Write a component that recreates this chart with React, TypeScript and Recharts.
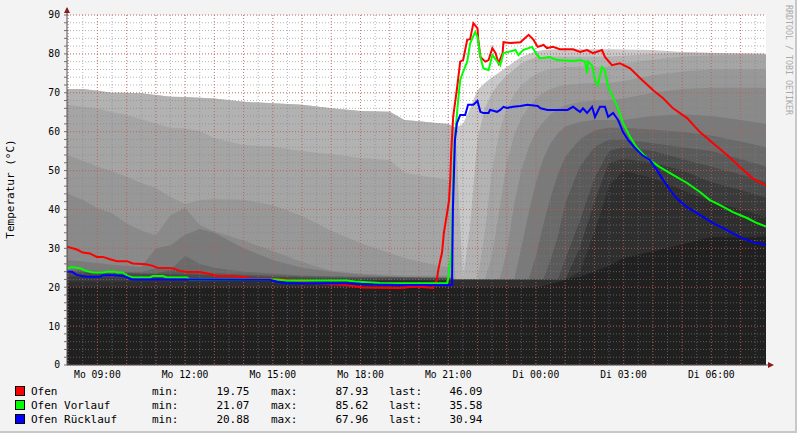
import { ComposedChart, Area, Line, XAxis, YAxis, CartesianGrid } from 'recharts';

// time axis in hours counted from Mo 00:00
const X_START = 7.96;
const X_END = 31.87;

// grey history bands (one curve per past heating cycle)
const LAYER_T = [7.96, 8.5, 9, 9.5, 10, 10.5, 11, 11.5, 12, 12.5, 13, 14, 15, 16, 17, 18, 19, 19.5, 20, 20.5, 21, 21.25, 21.5, 21.75, 22, 22.25, 22.5, 22.75, 23, 23.25, 23.5, 23.75, 24, 24.25, 24.5, 24.75, 25, 25.5, 26, 26.5, 27, 28, 29, 30, 31, 31.87];
const LAYER_1 = [71, 71, 70.5, 70, 70, 69.9, 69.4, 69, 68.9, 68.7, 68.5, 67.7, 67.3, 66.9, 66, 65.3, 65.1, 63, 62.7, 62.3, 62, 61, 62, 66, 70.7, 72.5, 74, 75.3, 76.6, 78, 79.2, 80, 80.7, 81, 81.1, 81.2, 81.2, 81.2, 81.2, 81.2, 81.1, 81, 80.5, 80.3, 80.1, 80];
const LAYER_2 = [71, 71, 70.5, 70, 70, 69.9, 69.4, 69, 68.9, 68.7, 68.5, 67.7, 67.3, 66.9, 66, 65.3, 65.1, 63, 62.7, 62.3, 62, 61, 21.9, 36, 58, 66, 70, 72.5, 74.5, 76, 77.5, 78.5, 79, 79.2, 79.3, 79.3, 79.3, 79.3, 79.3, 79.3, 79.5, 80, 80.3, 80.2, 80.1, 80];
const LAYER_3 = [66.9, 66.4, 66, 65, 64.3, 63.2, 62.1, 61, 60.8, 60.2, 58.3, 56.6, 56.1, 55, 54.2, 53.2, 52.7, 49.5, 48.7, 48.2, 47.6, 21.9, 21.9, 21.9, 21.9, 34, 50, 60, 66, 69.5, 72, 73.5, 74.8, 75.6, 76.1, 76.4, 76.6, 76.7, 76.7, 76.7, 77.5, 78.5, 79.3, 79.6, 79.8, 79.8];
const LAYER_4 = [54, 52.5, 51, 49.8, 48.4, 46.8, 45.5, 43.2, 40.4, 36, 34, 30, 27, 25, 24, 23.5, 23.2, 23, 23, 23, 23, 21.9, 21.9, 21.9, 21.9, 21.9, 28, 40, 52, 59, 63.5, 66.5, 68.5, 70, 71, 71.6, 72, 72.4, 72.5, 72.5, 73, 74.5, 75.5, 76, 76, 76];
const LAYER_5 = [44.1, 42.5, 40.3, 39, 36.4, 34.6, 33.3, 30.8, 28, 26, 25, 24, 23.5, 23, 22.8, 22.7, 22.6, 22.5, 22.5, 22.5, 22.5, 21.9, 21.9, 21.9, 21.9, 21.9, 21.9, 21.9, 29, 41, 50, 56, 60, 62.5, 64.5, 65.8, 66.8, 67.6, 68, 68.1, 68.5, 70, 71, 71.3, 71.3, 71.3];
const LAYER_6 = [24.2, 24.1, 24, 24, 24, 24, 30, 38.5, 41.4, 42.4, 42.6, 42.5, 41.1, 38.3, 34.5, 31.3, 28.8, 27.5, 26.6, 25.8, 25.2, 21.9, 21.9, 21.9, 21.9, 21.9, 21.9, 21.9, 21.9, 21.9, 30, 39, 47, 53, 57, 59.5, 61.3, 62.5, 63, 63, 63, 64, 64.5, 64, 63, 62];
const LAYER_7 = [23.8, 23.7, 23.6, 23.5, 23.5, 23.4, 23.4, 24.5, 33.5, 35, 34.3, 32, 29.3, 26.5, 24.2, 23.3, 22.8, 22.6, 22.5, 22.4, 22.3, 21.9, 21.9, 21.9, 21.9, 21.9, 21.9, 21.9, 21.9, 21.9, 21.9, 21.9, 28, 36, 43, 49, 53.5, 58, 60.3, 61, 61, 60.5, 60, 59, 57.5, 56];
const LAYER_8 = [27, 26.6, 26.2, 25.8, 25.5, 25.2, 24.8, 24.4, 24, 23.8, 23.6, 23.3, 23, 22.8, 22.7, 22.6, 22.6, 22.6, 22.6, 22.6, 22.6, 21.9, 21.9, 21.9, 21.9, 21.9, 21.9, 21.9, 21.9, 21.9, 21.9, 21.9, 21.9, 21.9, 27, 33, 41.5, 51, 56, 58, 58, 57, 56, 55, 53, 51];
const LAYER_9 = [24.5, 24.4, 24.2, 24, 23.8, 23.6, 23.5, 23.4, 23.3, 23.2, 23.1, 22.9, 22.7, 22.5, 22.4, 22.3, 22.3, 22.3, 22.3, 22.3, 22.3, 21.9, 21.9, 21.9, 21.9, 21.9, 21.9, 21.9, 21.9, 21.9, 21.9, 21.9, 21.9, 21.9, 21.9, 21.9, 27, 37, 48, 55, 56, 55, 53, 51, 49, 47];
const LAYER_10 = [22.8, 22.7, 22.6, 22.5, 22.4, 22.3, 22.3, 22.2, 22.2, 22.1, 22.1, 22.1, 22.1, 22.1, 22, 22, 22, 22, 22, 22, 22, 21.9, 21.9, 21.9, 21.9, 21.9, 21.9, 21.9, 21.9, 21.9, 21.9, 21.9, 21.9, 21.9, 21.9, 21.9, 21.9, 30, 42, 52, 53, 52, 50, 47, 45, 43];
const LAYER_11 = [21.5, 21.5, 21.5, 21.5, 21.5, 21.5, 21.5, 21.5, 21.5, 21.5, 21.5, 21.6, 21.6, 21.6, 21.6, 21.6, 21.8, 21.8, 21.8, 21.8, 21.8, 21.9, 21.9, 21.9, 21.9, 21.9, 21.9, 21.9, 21.9, 21.9, 21.9, 21.9, 21.9, 21.9, 21.9, 21.9, 21.9, 24, 34, 46, 50, 48, 45, 42, 40, 38];
const LAYER_12 = [20, 20, 20, 20, 20, 20, 20, 20, 20, 20, 20, 20, 20, 20, 20, 20, 20, 20, 20, 20, 20, 20, 20, 20, 20, 20, 20, 20, 20, 20, 20, 20, 20, 20.3, 20.8, 21.3, 21.9, 22.7, 24, 25.5, 27.5, 29.2, 31, 32.9, 32.8, 33];

// Ofen
const OFEN_T = [7.96, 8.3, 8.5, 8.74, 8.98, 9.19, 9.43, 9.67, 10.01, 10.21, 10.66, 10.9, 11.04, 11.58, 11.82, 12.06, 12.51, 12.85, 13.09, 13.64, 14.11, 14.22, 15.24, 16.27, 17.47, 18.08, 19.35, 19.86, 20.2, 20.48, 20.55, 20.61, 20.65, 20.72, 20.79, 20.85, 20.96, 21.03, 21.07, 21.1, 21.17, 21.3, 21.41, 21.51, 21.65, 21.75, 21.86, 22.0, 22.03, 22.1, 22.27, 22.38, 22.51, 22.62, 22.72, 22.86, 22.89, 23.13, 23.47, 23.75, 23.92, 24.06, 24.26, 24.38, 24.58, 24.82, 25.27, 25.51, 25.75, 25.95, 26.26, 26.36, 26.6, 26.87, 27.22, 27.56, 28.0, 28.35, 28.69, 29.17, 29.61, 30.06, 30.54, 30.98, 31.42, 31.87];
const OFEN_V = [30.4, 29.7, 28.9, 28.7, 27.8, 27.8, 27.2, 26.7, 26.7, 26.1, 25.9, 25.5, 25.0, 24.9, 24.2, 23.9, 23.9, 23.4, 22.9, 22.9, 22.5, 22.2, 22.1, 21.2, 20.6, 19.9, 19.8, 20.2, 20.0, 19.8, 21.0, 21.9, 24.0, 26.6, 29.0, 33.9, 39.0, 42.4, 48, 54.4, 63.9, 71.1, 78, 78.4, 83.6, 83.8, 87.9, 86.6, 83.6, 79.2, 78, 78.4, 81.5, 80.2, 77.6, 80.2, 83, 82.8, 83, 84.9, 83.6, 81.8, 82.3, 81.5, 81.8, 81.2, 81.2, 80.5, 81, 80.2, 81, 79.2, 77.1, 77.6, 76.3, 73.8, 70.7, 68.6, 66, 63.5, 59.9, 57, 54, 50.9, 48, 46.1];

// Ofen Vorlauf
const VORLAUF_T = [7.96, 8.13, 8.4, 8.57, 8.85, 9.19, 9.33, 9.6, 9.67, 9.87, 10.04, 10.21, 10.8, 10.9, 11.24, 11.38, 12.06, 12.16, 15.14, 15.48, 17.53, 17.81, 18.66, 20.96, 20.99, 21.13, 21.17, 21.23, 21.34, 21.41, 21.51, 21.65, 21.75, 21.92, 22.0, 22.1, 22.2, 22.38, 22.51, 22.68, 22.78, 22.89, 23.3, 23.4, 23.56, 23.87, 24.04, 24.14, 24.48, 24.72, 25.27, 25.51, 25.68, 25.75, 25.78, 25.92, 26.02, 26.12, 26.26, 26.36, 26.47, 26.64, 26.81, 26.98, 27.22, 27.46, 27.8, 28.24, 28.69, 29.17, 29.61, 29.95, 30.3, 30.74, 31.22, 31.56, 31.87];
const VORLAUF_V = [24.9, 25.2, 24.9, 24.3, 23.8, 23.8, 24.0, 24.0, 23.8, 23.8, 22.9, 22.5, 22.5, 22.9, 22.9, 22.5, 22.5, 22.0, 22.0, 21.7, 21.7, 21.5, 21.1, 21.0, 21.9, 30, 47.6, 58.7, 68.1, 73.3, 75.4, 78, 82.7, 85.6, 84.4, 79.2, 76.3, 75.8, 79.7, 78, 77.1, 80.2, 81, 79.7, 81, 81.8, 79.7, 78.9, 79.2, 78.4, 78.2, 78.4, 78, 75, 78, 77.1, 73.3, 72, 76.6, 75.8, 71.5, 68.9, 66, 62.2, 58.7, 55.8, 53.2, 50.9, 48.9, 46.8, 44.5, 42.4, 41.1, 39.3, 37.8, 36.5, 35.6];

// Ofen Rücklauf
const RUECK_T = [7.96, 8.13, 8.3, 8.64, 9.09, 9.19, 9.53, 9.87, 10.04, 10.18, 12.06, 14.9, 15.14, 15.48, 17.53, 18.42, 19.35, 21.13, 21.16, 21.23, 21.3, 21.41, 21.58, 21.68, 21.86, 22.0, 22.1, 22.2, 22.38, 22.43, 22.67, 22.78, 22.89, 23.01, 23.22, 23.47, 23.71, 24.06, 24.16, 24.4, 25.08, 25.27, 25.41, 25.51, 25.61, 25.75, 25.92, 26.02, 26.19, 26.36, 26.47, 26.64, 26.81, 26.98, 27.15, 27.39, 27.63, 27.9, 28.14, 28.35, 28.59, 28.82, 29.17, 29.61, 30.06, 30.54, 30.98, 31.42, 31.87];
const RUECK_V = [24, 24, 23.1, 22.7, 22.7, 23.1, 23.1, 22.9, 22.5, 22.0, 22.0, 21.9, 21.4, 21.0, 21.0, 20.7, 20.6, 20.6, 40, 57.9, 62.2, 64.3, 64.3, 66.9, 66.9, 67.9, 65.1, 64.8, 64.8, 65.6, 65.1, 65.6, 66.4, 66.1, 66.4, 66.6, 66.9, 66.6, 66, 65.6, 65.6, 66.4, 65.6, 65.1, 66, 64.8, 66.4, 63.8, 66.4, 66.4, 63.8, 64.8, 63, 59.9, 57.9, 55.8, 54, 52.7, 50.1, 47.6, 45, 42.8, 40.6, 38.6, 36.5, 34.7, 32.9, 31.6, 30.9];

const X_LABEL_HOURS = [9, 12, 15, 18, 21, 24, 27, 30];
const X_LABELS = ['Mo 09:00', 'Mo 12:00', 'Mo 15:00', 'Mo 18:00', 'Mo 21:00', 'Di 00:00', 'Di 03:00', 'Di 06:00'];

const LEGEND_NAMES = ['Ofen', 'Ofen Vorlauf', 'Ofen Rücklauf'];
const LEGEND_MIN = ['19.75', '21.07', '20.88'];
const LEGEND_MAX = ['87.93', '85.62', '67.96'];
const LEGEND_LAST = ['46.09', '35.58', '30.94'];

const LINE_COLORS = ['#ff0000', '#00ff00', '#0000ff'];
const BAND_COLORS = ['#c8c8c8', '#b2b2b2', '#a5a5a5', '#989898', '#8a8a8a', '#7a7a7a', '#6a6a6a', '#5a5a5a', '#4a4a4a', '#3a3a3a', '#2e2e2e', '#202020'];

const LAYERS = [LAYER_1, LAYER_2, LAYER_3, LAYER_4, LAYER_5, LAYER_6, LAYER_7, LAYER_8, LAYER_9, LAYER_10, LAYER_11, LAYER_12];

// at each time the k-th highest curve is painted with the k-th shade, so the
// shade shows how many past cycles were at least that warm
const bandData = LAYER_T.map((t, i) => {
  const row: Record<string, number> = { t };
  LAYERS.map((l) => l[i])
    .sort((a, b) => b - a)
    .forEach((v, k) => {
      row[`r${k + 1}`] = v;
    });
  return row;
});

const toPoints = (ts: number[], vs: number[]) => ts.map((t, i) => ({ t, v: vs[i] }));
const series = [
  toPoints(OFEN_T, OFEN_V),
  toPoints(VORLAUF_T, VORLAUF_V),
  toPoints(RUECK_T, RUECK_V),
];

const range = (a: number, b: number, step: number) => {
  const out: number[] = [];
  for (let v = a; v <= b + 1e-9; v += step) out.push(Math.round(v * 100) / 100);
  return out;
};

const hourTicks = range(8, 31, 1);
const yTicks = range(0, 90, 2);
const minorV = range(8, 31.5, 0.5);
const majorV = range(8, 31, 1);
const minorH = range(0, 90, 2);
const majorH = range(0, 90, 10);

const FONT = '"DejaVu Sans Mono", monospace';

export default function App() {
  return (
    <div style={{ position: 'absolute', left: 0, top: 0, width: 797, height: 433, background: '#f3f3f3', overflow: 'hidden' }}>
      <ComposedChart width={797} height={433} data={bandData} margin={{ top: 15, right: 31, left: 7, bottom: 38 }}>
        <CartesianGrid horizontal={false} vertical={false} fill="#ffffff" />
        <XAxis
          type="number"
          dataKey="t"
          domain={[X_START, X_END]}
          allowDataOverflow
          ticks={hourTicks}
          interval={0}
          height={30}
          tickLine={false}
          tickSize={2}
          tickMargin={4}
          axisLine={{ stroke: '#505050' }}
          tick={{ fontSize: 9.7, fill: '#000', fontFamily: FONT }}
          tickFormatter={(v: number) => {
            const i = X_LABEL_HOURS.indexOf(v);
            return i >= 0 ? X_LABELS[i] : '';
          }}
        />
        <YAxis
          type="number"
          domain={[0, 90]}
          allowDataOverflow
          ticks={yTicks}
          interval={0}
          width={60}
          tickSize={3}
          tickMargin={4}
          tickLine={{ stroke: '#707070' }}
          axisLine={{ stroke: '#505050' }}
          tick={{ fontSize: 9.7, fill: '#000', fontFamily: FONT }}
          tickFormatter={(v: number) => (v % 10 === 0 ? String(v) : '')}
        />
        {BAND_COLORS.map((c, k) => (
          <Area
            key={k}
            type="linear"
            dataKey={`r${k + 1}`}
            fill={c}
            fillOpacity={1}
            stroke="none"
            dot={false}
            activeDot={false}
            isAnimationActive={false}
          />
        ))}
        <CartesianGrid
          zIndex={150}
          horizontalValues={minorH}
          verticalValues={minorV}
          stroke="rgba(130,130,130,0.6)"
          strokeDasharray="1 2"
        />
        <CartesianGrid
          zIndex={160}
          horizontalValues={majorH}
          verticalValues={majorV}
          stroke="rgba(225,70,70,0.55)"
          strokeDasharray="1 2"
        />
        {series.map((d, k) => (
          <Line
            key={k}
            data={d}
            dataKey="v"
            type="linear"
            stroke={LINE_COLORS[k]}
            strokeWidth={2}
            dot={false}
            activeDot={false}
            isAnimationActive={false}
          />
        ))}
      </ComposedChart>
      <svg width={797} height={433} style={{ position: 'absolute', left: 0, top: 0, pointerEvents: 'none' }}>
        <line x1={0} y1={432} x2={797} y2={432} stroke="#c8c8c8" strokeWidth={2} />
        <line x1={796} y1={0} x2={796} y2={433} stroke="#c8c8c8" strokeWidth={2} />
        <line x1={67} y1={8} x2={67} y2={15} stroke="#505050" />
        <line x1={766} y1={365} x2={770} y2={365} stroke="#505050" />
        <polygon points="64,13 70,13 67,7" fill="#8b1a1a" />
        <polygon points="768,362 768,368 774,365" fill="#8b1a1a" />
        <text
          x={10}
          y={189}
          transform="rotate(-90 10 189)"
          textAnchor="middle"
          dominantBaseline="central"
          fontFamily={FONT}
          fontSize={11}
          fill="#000"
        >
          Temperatur (°C)
        </text>
        <text
          x={789}
          y={60}
          transform="rotate(90 789 60)"
          textAnchor="middle"
          dominantBaseline="central"
          fontFamily={FONT}
          fontSize={8.3}
          fill="#aaaaaa"
        >
          RRDTOOL / TOBI OETIKER
        </text>
        {LEGEND_NAMES.map((name, i) => {
          const y = 395 + i * 14;
          return (
            <g key={name} fontFamily={FONT} fontSize={11} fill="#000">
              <rect x={15.5} y={y - 8.5} width={9} height={9} fill={LINE_COLORS[i]} stroke="#000" />
              <text x={31} y={y}>{name}</text>
              <text x={152} y={y}>min:</text>
              <text x={249.5} y={y} textAnchor="end">{LEGEND_MIN[i]}</text>
              <text x={271} y={y}>max:</text>
              <text x={368.5} y={y} textAnchor="end">{LEGEND_MAX[i]}</text>
              <text x={389} y={y}>last:</text>
              <text x={482.5} y={y} textAnchor="end">{LEGEND_LAST[i]}</text>
            </g>
          );
        })}
      </svg>
    </div>
  );
}
